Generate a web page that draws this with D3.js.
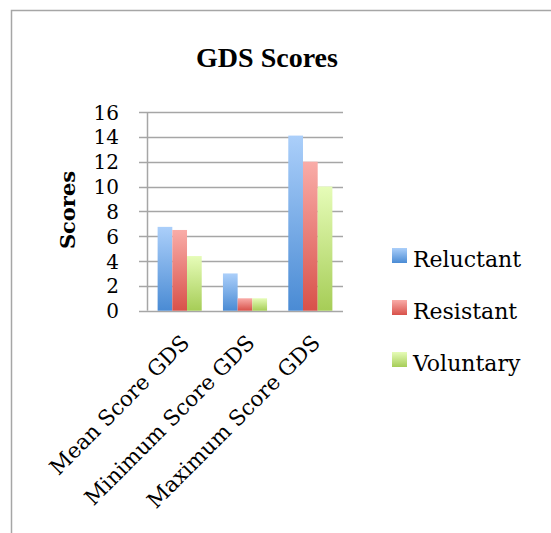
<html>
<head>
<meta charset="utf-8">
<script src="https://d3js.org/d3.v7.min.js"></script>
<style>
  body { margin: 0; background: #fff; }
  text { font-family: "DejaVu Serif", serif; fill: #000; }
</style>
</head>
<body>
<script>
var categories = ["Mean Score GDS", "Minimum Score GDS", "Maximum Score GDS"];
var seriesNames = ["Reluctant", "Resistant", "Voluntary"];
var reluctant = [6.75, 3, 14.1];
var resistant = [6.5, 1, 12];
var voluntary = [4.4, 1, 10];
var yTicks = [0, 2, 4, 6, 8, 10, 12, 14, 16];

var seriesValues = [reluctant, resistant, voluntary];
var colors = [
  {top: "#abcffa", bottom: "#4a8bd4"},
  {top: "#f9aca8", bottom: "#d8514a"},
  {top: "#e6fcb8", bottom: "#a6cd57"}
];

var W = 551, H = 533;
var svg = d3.select("body").append("svg").attr("width", W).attr("height", H);

// frame
svg.append("path")
  .attr("d", "M11.5," + H + "V10.5H" + W)
  .attr("fill", "none").attr("stroke", "#a6a6a6").attr("stroke-width", 1.5);

svg.append("text")
  .attr("x", 267).attr("y", 67)
  .attr("text-anchor", "middle")
  .style("font-family", "'Liberation Serif', serif")
  .style("font-size", "28px").style("font-weight", "bold")
  .text("GDS Scores");

var defs = svg.append("defs");
colors.forEach(function(c, i) {
  var g = defs.append("linearGradient").attr("id", "grad" + i)
    .attr("x1", 0).attr("y1", 0).attr("x2", 0).attr("y2", 1);
  g.append("stop").attr("offset", "0%").attr("stop-color", c.top);
  g.append("stop").attr("offset", "100%").attr("stop-color", c.bottom);
});

var x0 = d3.scaleBand().domain(categories).range([147, 343]);
var y = d3.scaleLinear().domain([0, 16]).range([310.7, 112]);
var barW = x0.bandwidth() * 0.225;

// gridlines
svg.append("g").selectAll("line").data(yTicks).enter().append("line")
  .attr("x1", 139).attr("x2", 343)
  .attr("y1", function(d) { return Math.round(y(d)) + 0.5; })
  .attr("y2", function(d) { return Math.round(y(d)) + 0.5; })
  .attr("stroke", "#a6a6a6").attr("stroke-width", 1.5);

// y axis line
svg.append("line").attr("x1", 147.5).attr("x2", 147.5)
  .attr("y1", y(16)).attr("y2", y(0))
  .attr("stroke", "#a6a6a6").attr("stroke-width", 1.5);

svg.append("g").selectAll("text").data(yTicks).enter().append("text")
  .attr("x", 119).attr("y", function(d) { return y(d) + 7.5; })
  .attr("text-anchor", "end")
  .style("font-size", "20px")
  .text(function(d) { return d; });

svg.append("text")
  .attr("transform", "translate(75,210) rotate(-90)")
  .attr("text-anchor", "middle")
  .style("font-size", "21px").style("font-weight", "bold")
  .text("Scores");

// bars
seriesValues.forEach(function(vals, si) {
  svg.append("g").selectAll("rect").data(vals).enter().append("rect")
    .attr("x", function(d, i) {
      return x0(categories[i]) + x0.bandwidth() / 2 - 1.5 * barW + si * barW;
    })
    .attr("y", function(d) { return y(d); })
    .attr("width", barW)
    .attr("height", function(d) { return y(0) - y(d); })
    .attr("fill", "url(#grad" + si + ")");
});

// category labels
svg.append("g").selectAll("text").data(categories).enter().append("text")
  .attr("transform", function(d) {
    return "translate(" + (x0(d) + x0.bandwidth() / 2 + 11) + ",344) rotate(-45)";
  })
  .attr("text-anchor", "end")
  .style("font-size", "21.5px")
  .text(function(d) { return d; });

// legend
var leg = svg.append("g").selectAll("g").data(seriesNames).enter().append("g")
  .attr("transform", function(d, i) { return "translate(392," + (248 + i * 52) + ")"; });
leg.append("rect").attr("width", 15).attr("height", 15)
  .attr("fill", function(d, i) { return "url(#grad" + i + ")"; });
leg.append("text").attr("x", 21).attr("y", 18.5)
  .style("font-size", "22px")
  .text(function(d) { return d; });
</script>
</body>
</html>
